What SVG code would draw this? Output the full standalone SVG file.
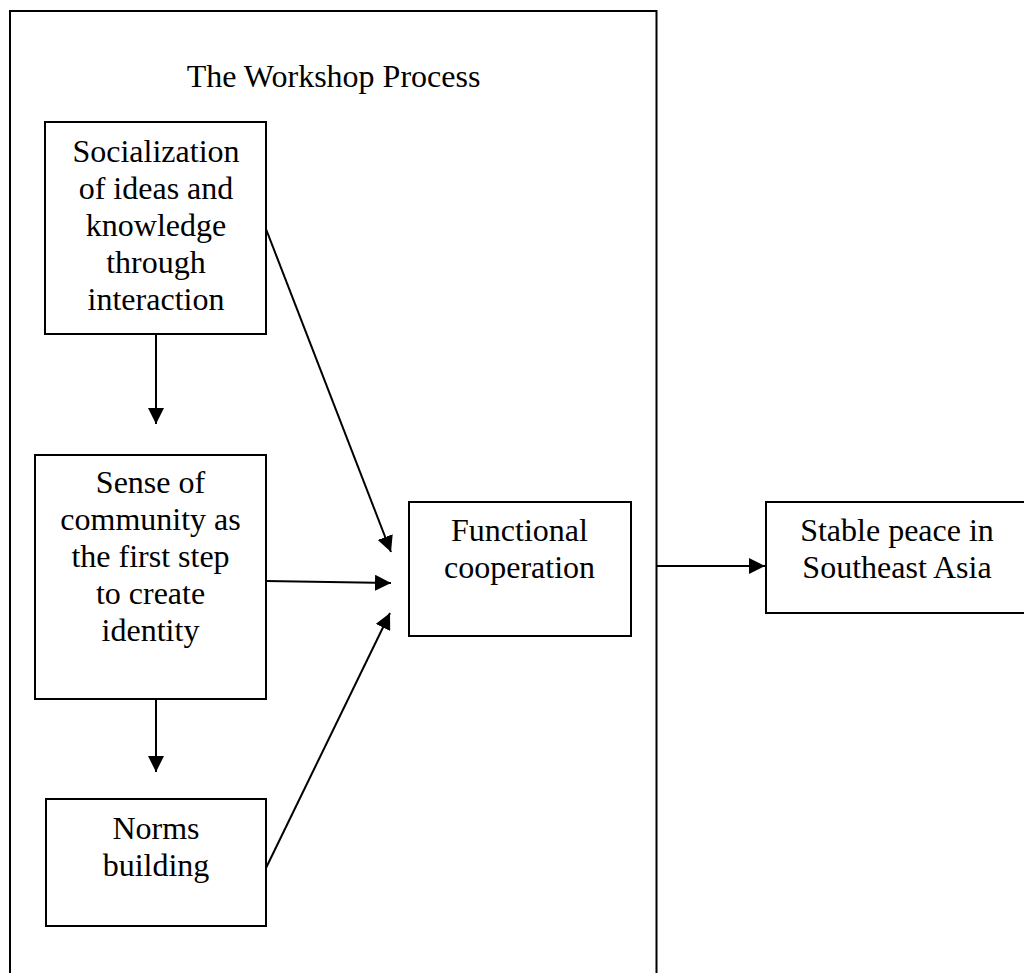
<svg xmlns="http://www.w3.org/2000/svg" width="1024" height="973" viewBox="0 0 1024 973">
<style>
.box{fill:#fff;stroke:#000;stroke-width:2}
.t{font-family:"Liberation Serif","Times New Roman",serif;font-size:32px;fill:#000;text-anchor:middle}
.c{stroke:#000;stroke-width:2;fill:none;marker-end:url(#ah)}
</style>
<defs>
<marker id="ah" markerUnits="userSpaceOnUse" markerWidth="16" markerHeight="16" refX="16" refY="8" orient="auto" viewBox="0 0 16 16">
<path d="M0,0 L16,8 L0,16 z" fill="#000"/>
</marker>
</defs>
<rect width="1024" height="973" fill="#fff"/>
<g id="workshop-frame">
<path d="M10,990 V11 H656.5 V990" fill="none" stroke="#000" stroke-width="2"/>
<text class="t" x="333.5" y="87">The Workshop Process</text>
</g>
<g id="socialization">
<rect class="box" x="45" y="122" width="221" height="212"/>
<text class="t" x="156" y="162">Socialization</text>
<text class="t" x="156" y="199">of ideas and</text>
<text class="t" x="156" y="236">knowledge</text>
<text class="t" x="156" y="273">through</text>
<text class="t" x="156" y="310">interaction</text>
</g>
<g id="sense-of-community">
<rect class="box" x="35" y="455" width="231" height="244"/>
<text class="t" x="150.5" y="493">Sense of</text>
<text class="t" x="150.5" y="530">community as</text>
<text class="t" x="150.5" y="567">the first step</text>
<text class="t" x="150.5" y="604">to create</text>
<text class="t" x="150.5" y="641">identity</text>
</g>
<g id="norms-building">
<rect class="box" x="46" y="799" width="220" height="127"/>
<text class="t" x="156" y="839">Norms</text>
<text class="t" x="156" y="876">building</text>
</g>
<g id="functional-cooperation">
<rect class="box" x="409" y="502" width="222" height="134"/>
<text class="t" x="519.5" y="541">Functional</text>
<text class="t" x="519.5" y="578">cooperation</text>
</g>
<g id="stable-peace">
<rect class="box" x="766" y="502" width="262" height="111"/>
<text class="t" x="897" y="541">Stable peace in</text>
<text class="t" x="897" y="578">Southeast Asia</text>
</g>
<g id="connectors">
<line class="c" x1="156" y1="334" x2="156" y2="424"/>
<line class="c" x1="156" y1="699" x2="156" y2="772"/>
<line class="c" x1="266" y1="229" x2="391" y2="552"/>
<line class="c" x1="266" y1="581" x2="391" y2="583"/>
<line class="c" x1="266" y1="868" x2="390" y2="613"/>
<line class="c" x1="656.5" y1="566" x2="765" y2="566"/>
</g>
</svg>
